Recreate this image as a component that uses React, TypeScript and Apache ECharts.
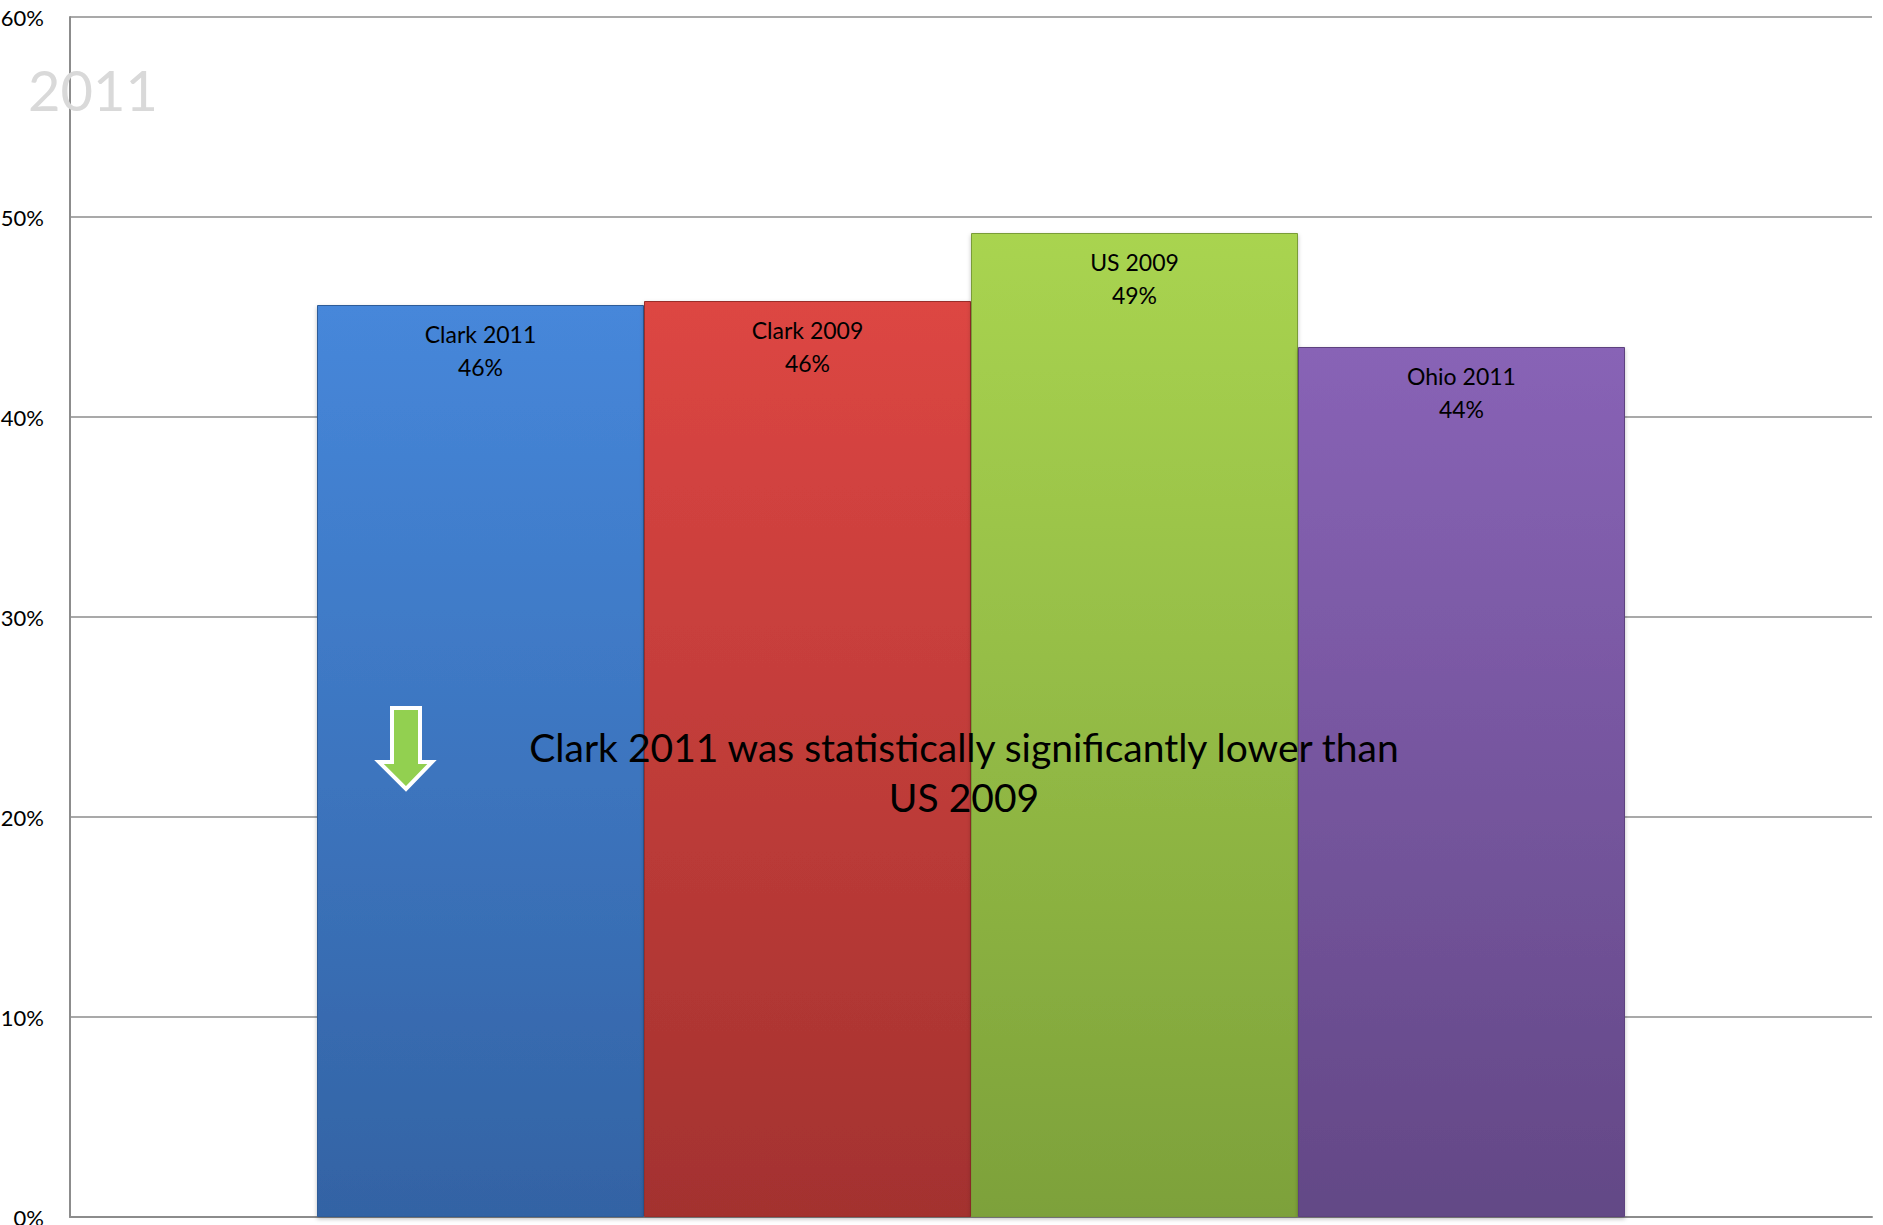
import React, { useEffect, useRef } from "react";
import * as echarts from "echarts";

const categories = ["Clark 2011", "Clark 2009", "US 2009", "Ohio 2011"];
const values = [45.6, 45.8, 49.2, 43.5];
const topColors = ["#4687da", "#dd4643", "#a9d450", "#8863b6"];
const bottomColors = ["#3363a4", "#a3322f", "#7da13a", "#634886"];
const borderColors = ["#2f5c98", "#992f2c", "#7a9c38", "#5d437e"];
const yTicks = [0, 10, 20, 30, 40, 50, 60];
const noteLines = ["Clark 2011 was statistically significantly lower than", "US 2009"];
const watermark = "2011";

const FONT = "Lato, 'Open Sans', sans-serif";

export default function App() {
  const ref = useRef<HTMLDivElement>(null);
  useEffect(() => {
    if (!ref.current) return;
    const chart = echarts.init(ref.current, null, { renderer: "svg" });
    const series = categories.map((name, i) => ({
      type: "bar",
      name,
      data: [values[i]],
      barWidth: 327,
      barGap: "0%",
      itemStyle: {
        color: new echarts.graphic.LinearGradient(0, 0, 0, 1, [
          { offset: 0, color: topColors[i] },
          { offset: 1, color: bottomColors[i] },
        ]),
        borderColor: borderColors[i],
        borderWidth: 1,
        shadowColor: "rgba(0,0,0,0.25)",
        shadowBlur: 4,
        shadowOffsetY: 2,
      },
      label: {
        show: true,
        position: "insideTop",
        distance: 12,
        color: "#000",
        fontFamily: FONT,
        fontSize: 23,
        lineHeight: 33,
        formatter: (p: any) => `${p.seriesName}\n${Math.round(p.value)}%`,
      },
    }));
    chart.setOption({
      animation: false,
      backgroundColor: "#ffffff",
      grid: {
        left: 70,
        right: 11,
        top: 17,
        bottom: 8,
        containLabel: false,
        outerBoundsMode: "none",
      },
      xAxis: {
        type: "category",
        data: [""],
        axisLine: { show: true, lineStyle: { color: "#8c8c8c", width: 2 } },
        axisTick: { show: false },
        axisLabel: { show: false },
      },
      yAxis: {
        type: "value",
        min: yTicks[0],
        max: yTicks[yTicks.length - 1],
        interval: 10,
        axisLine: { show: true, lineStyle: { color: "#8c8c8c", width: 2 } },
        axisTick: { show: false },
        splitLine: { show: true, lineStyle: { color: "#8c8c8c", width: 1.5 } },
        axisLabel: {
          formatter: "{value}%",
          color: "#000",
          fontFamily: FONT,
          fontSize: 22,
          margin: 26,
        },
      },
      series,
      graphic: [
        {
          type: "text",
          left: 28,
          top: 61,
          z: 100,
          style: {
            text: watermark,
            fill: "#d9d9d9",
            font: `56px ${FONT}`,
          },
        },
        {
          type: "polygon",
          z: 100,
          shape: {
            points: [
              [392, 708],
              [420, 708],
              [420, 762],
              [432, 762],
              [406, 789],
              [379, 762],
              [392, 762],
            ],
          },
          style: { fill: "#92d050", stroke: "#ffffff", lineWidth: 4 },
        },
        {
          type: "text",
          x: 964,
          y: 772,
          z: 100,
          style: {
            text: noteLines.join("\n"),
            fill: "#000",
            font: `39px ${FONT}`,
            align: "center",
            verticalAlign: "middle",
            lineHeight: 50,
          },
        },
      ],
    });
    return () => chart.dispose();
  }, []);
  return (
    <div
      ref={ref}
      style={{ position: "fixed", left: 0, top: 0, width: 1883, height: 1225, background: "#fff" }}
    />
  );
}
